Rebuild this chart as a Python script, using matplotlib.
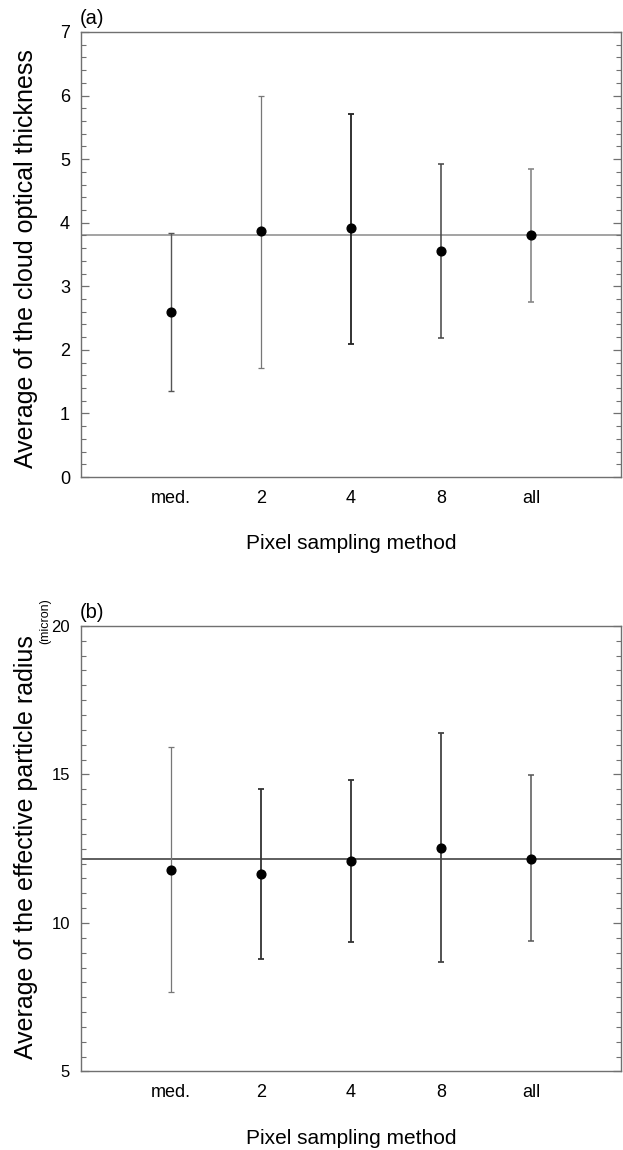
import matplotlib
matplotlib.use("Agg")
import matplotlib.pyplot as plt
from matplotlib.ticker import MultipleLocator

plt.rcParams['font.family'] = ['Liberation Sans', 'DejaVu Sans']

categories = ["med.", "2", "4", "8", "all"]

# Panel (a): cloud optical thickness
tau_mean = [2.59, 3.87, 3.91, 3.55, 3.80]
tau_upper = [3.84, 6.00, 5.71, 4.92, 4.85]
tau_lower = [1.35, 1.72, 2.10, 2.19, 2.75]
tau_ref = 3.81

# Panel (b): effective particle radius (micron)
re_mean = [11.79, 11.64, 12.07, 12.53, 12.17]
re_upper = [15.92, 14.52, 14.80, 16.38, 14.97]
re_lower = [7.67, 8.78, 9.37, 8.68, 9.40]
re_ref = 12.15

fig = plt.figure(figsize=(6.23, 11.5), dpi=100)

ax1 = fig.add_axes([0.1300, 0.5852, 0.8668, 0.3870])
ax2 = fig.add_axes([0.1300, 0.0683, 0.8668, 0.3874])

xs = list(range(1, len(categories) + 1))

def draw(ax, mean, lo, hi, ref, colors, lws, ylim, major, minor, spine_col, ref_col, ylab_size):
    for x, m, l, h, c, lw in zip(xs, mean, lo, hi, colors, lws):
        ax.errorbar([x], [m], yerr=[[m - l], [h - m]], fmt='none',
                    ecolor=c, elinewidth=lw, capsize=2.5, capthick=lw)
    ax.plot(xs, mean, 'o', color='black', markersize=6.3, zorder=5)
    ax.axhline(ref, color=ref_col, lw=1.1, zorder=1)
    ax.set_xlim(0, len(categories) + 1)
    ax.set_ylim(*ylim)
    ax.set_xticks(xs)
    ax.set_xticklabels(categories)
    ax.yaxis.set_major_locator(MultipleLocator(major))
    ax.yaxis.set_minor_locator(MultipleLocator(minor))
    ax.tick_params(axis='x', length=0, labelsize=13, pad=9)
    ax.tick_params(axis='y', which='both', direction='in', left=True, right=True,
                   labelsize=ylab_size, pad=8, color=spine_col)
    ax.tick_params(axis='y', which='major', length=6, width=0.9)
    ax.tick_params(axis='y', which='minor', length=3.5, width=0.8)
    for s in ax.spines.values():
        s.set_color(spine_col)
        s.set_linewidth(1.0)
    ax.set_xlabel("Pixel sampling method", fontsize=15, labelpad=20)

draw(ax1, tau_mean, tau_lower, tau_upper, tau_ref,
     ['#555555', '#777777', '#222222', '#444444', '#888888'],
     [1.0, 0.9, 1.3, 1.1, 1.2],
     (0, 7), 1, 0.2, '#707070', '#8a8a8a', 13)

draw(ax2, re_mean, re_lower, re_upper, re_ref,
     ['#777777', '#333333', '#333333', '#444444', '#555555'],
     [0.9, 1.3, 1.3, 1.3, 1.1],
     (5, 20), 5, 0.5, '#707070', '#333333', 12)

fig.text(0.042, 0.7748, "Average of the cloud optical thickness", fontsize=18,
         rotation=90, va='center', ha='center')
fig.text(0.042, 0.2635, "Average of the effective particle radius", fontsize=18,
         rotation=90, va='center', ha='center')
fig.text(0.072, 0.460, "(micron)", fontsize=9, rotation=90, va='center', ha='center')

fig.text(0.128, 0.9835, "(a)", fontsize=14.5, va='center', ha='left')
fig.text(0.128, 0.467, "(b)", fontsize=14.5, va='center', ha='left')

fig.savefig("out.png", dpi=100)
